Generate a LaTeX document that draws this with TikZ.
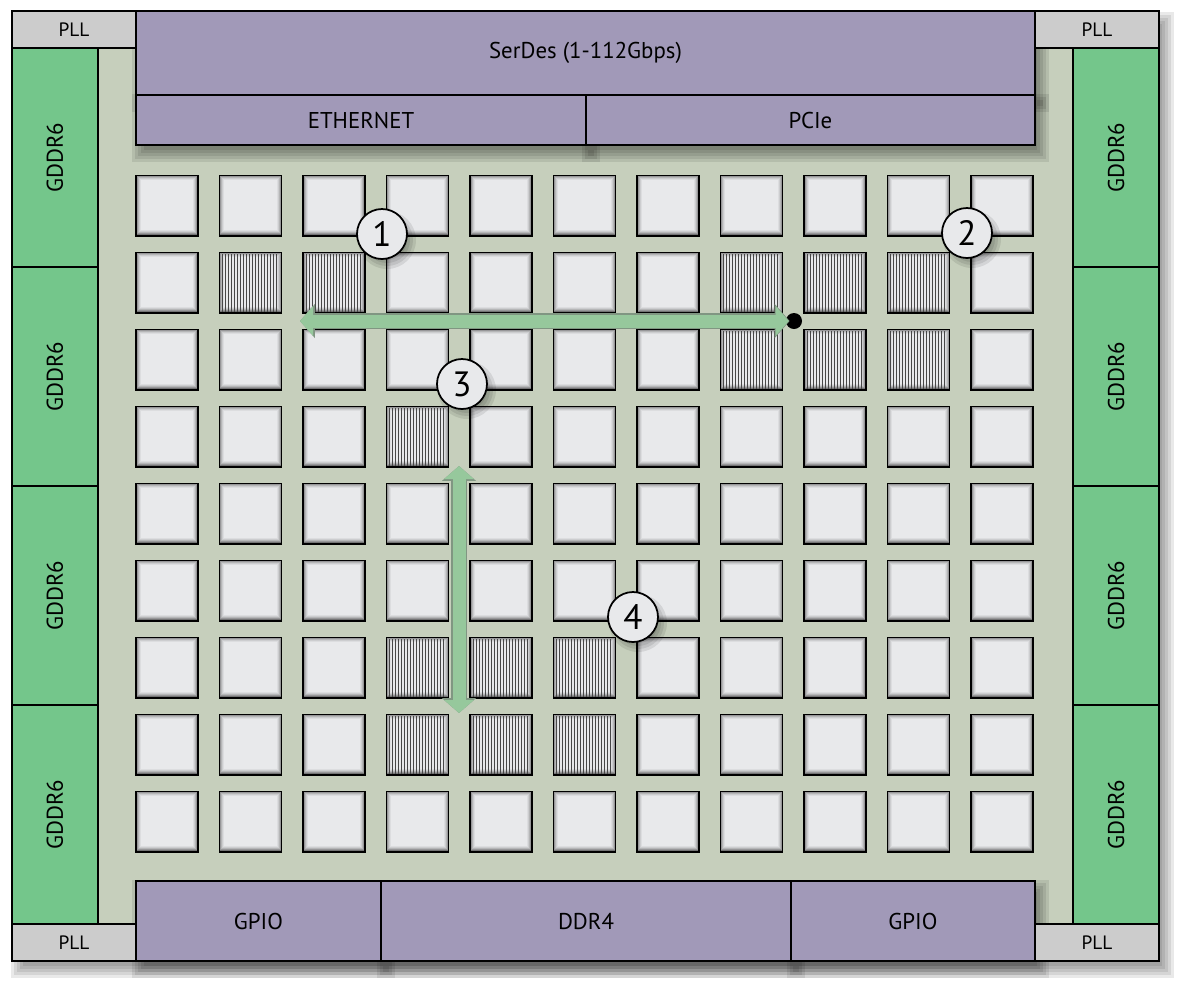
\documentclass[tikz,border=0pt]{standalone}
\usepackage{fontspec}
\setmainfont{PT Sans}
\usetikzlibrary{positioning,calc,arrows.meta}

\newcommand{\pxl}{0.02cm}
\definecolor{diefill}{RGB}{198,207,188}
\definecolor{pllgray}{RGB}{204,204,204}
\definecolor{gddrgreen}{RGB}{116,198,139}
\definecolor{iopurple}{RGB}{161,153,184}
\definecolor{tilegray}{RGB}{232,233,235}
\definecolor{flowfill}{RGB}{150,200,156}
\definecolor{flowrim}{RGB}{128,150,130}

\pgfdeclarelayer{base}
\pgfdeclarelayer{shade}
\pgfsetlayers{base,shade,main}

\tikzset{
  blk/.style={draw, line width=1pt, inner sep=0pt, outer sep=0pt, anchor=north west,
    font=\fontsize{13}{15}\selectfont},
  pll/.style={blk, fill=pllgray, minimum width=124*\pxl, minimum height=37*\pxl,
    font=\fontsize{11}{13}\selectfont},
  gddr/.style={blk, fill=gddrgreen, minimum width=86*\pxl, minimum height=219*\pxl},
  gddrtext/.style={rotate=90, font=\fontsize{13}{15}\selectfont},
  iface/.style={blk, fill=iopurple},
  softshade/.style={fill=black, opacity=0.085},
  tile/.style={draw, line width=1pt, fill=tilegray!50!black, inner sep=0pt,
    minimum width=62*\pxl, minimum height=60*\pxl},
  hatchline/.style={draw=black!72, line width=0.6pt},
  marker/.style={circle, draw, line width=1pt, fill=tilegray, minimum size=50*\pxl, inner sep=0pt,
    font=\fontsize{20}{22}\selectfont},
  hub/.style={circle, fill=black, minimum size=16*\pxl, inner sep=0pt},
  flowback/.style={draw=flowrim, line width=8.8pt,
    {Triangle[width=19pt,length=8.5pt]}-{Triangle[width=19pt,length=8.5pt]}},
  flow/.style={draw=flowfill, line width=7.4pt,
    {Triangle[width=16.5pt,length=7.4pt]}-{Triangle[width=16.5pt,length=7.4pt]}}
}

\begin{document}
\begin{tikzpicture}[x=\pxl, y=-\pxl]
\useasboundingbox (0,0) rectangle (1188,992);

% die and periphery
\begin{pgfonlayer}{base}
\foreach \r in {-4,-1,2,5,8}
  \fill[softshade] ({12+7-\r},{11+9-\r}) rectangle ({1159+7+\r},{961+9+\r});
\node[blk, fill=diefill, minimum width=1147*\pxl, minimum height=950*\pxl] (die) at (12,11) {};
\end{pgfonlayer}

\foreach \k in {0,...,3}{
  \node[gddr] (gddr-l\k) at (12,{48+219*\k}) {};
  \node[gddrtext] (gddr-l\k-txt) at (gddr-l\k.center) {GDDR6};
  \node[gddr] (gddr-r\k) at (1073,{48+219*\k}) {};
  \node[gddrtext] (gddr-r\k-txt) at (gddr-r\k.center) {GDDR6};
}

\node[pll] (pll-nw) at (12,11) {PLL};
\node[pll] (pll-ne) at (1035,11) {PLL};
\node[pll] (pll-sw) at (12,924) {PLL};
\node[pll] (pll-se) at (1035,924) {PLL};

\node[iface, minimum width=899*\pxl, minimum height=84*\pxl] (serdes) at (136,11) {SerDes (1-112Gbps)};
\node[iface, minimum width=450*\pxl, minimum height=50*\pxl] (eth) at (136,95) {ETHERNET};
\node[iface, minimum width=449*\pxl, minimum height=50*\pxl] (pcie) at (586,95) {PCIe};

\node[iface, minimum width=245*\pxl, minimum height=80*\pxl] (gpio-l) at (136,881) {GPIO};
\node[iface, minimum width=410*\pxl, minimum height=80*\pxl] (ddr) at (381,881) {DDR4};
\node[iface, minimum width=244*\pxl, minimum height=80*\pxl] (gpio-r) at (791,881) {GPIO};

\begin{pgfonlayer}{shade}
\foreach \n in {serdes,eth,pcie,gpio-l,ddr,gpio-r}
  \foreach \r in {-3,0,3,6,9}
    \fill[softshade] ($(\n.north west)+(5-\r,8-\r)$) rectangle ($(\n.south east)+(5+\r,8+\r)$);
\end{pgfonlayer}

% tile array
\foreach \r in {1,...,9}{
  \foreach \c in {1,...,11}{
    \node[tile] (t-\r-\c) at ({167+(\c-1)*83.5},{206+(\r-1)*77}) {};
    \foreach \k/\m in {1.8/65,2.8/78,3.8/88,4.8/95,5.8/100}
      \fill[tilegray!\m!black] ($(t-\r-\c.north west)+(\k,\k-0.6)$) rectangle ($(t-\r-\c.south east)+(-\k,-\k-0.6)$);
  }
}

% busy tiles
\foreach \r/\c in {2/2,2/3,2/8,2/9,2/10,3/8,3/9,3/10,4/4,7/4,7/5,7/6,8/4,8/5,8/6}
  \foreach \i in {0,...,18}
    \draw[hatchline] ($(t-\r-\c.north west)+(4+3*\i,2)$) -- ($(t-\r-\c.south west)+(4+3*\i,-2)$);

% transfers
\node[hub] (hub) at (794,321) {};
\coordinate (h-w) at (300,321);
\draw[flowback, shorten >=2.5pt] (h-w) -- (hub.center);
\draw[flow, shorten >=3pt] (h-w) -- (hub.center);

\coordinate (v-n) at (459,466);
\coordinate (v-s) at (459,713);
\draw[flowback] (v-n) -- (v-s);
\draw[flow] (v-n) -- (v-s);

\foreach \x/\y/\t in {382/234/1,967/233/2,462/384/3,633/617/4}{
  \foreach \r in {-2,1,4,7}
    \fill[softshade] ({\x+5},{\y+6}) circle ({22+\r});
  \node[marker] (m\t) at (\x,\y) {\t};
}
\end{tikzpicture}
\end{document}
